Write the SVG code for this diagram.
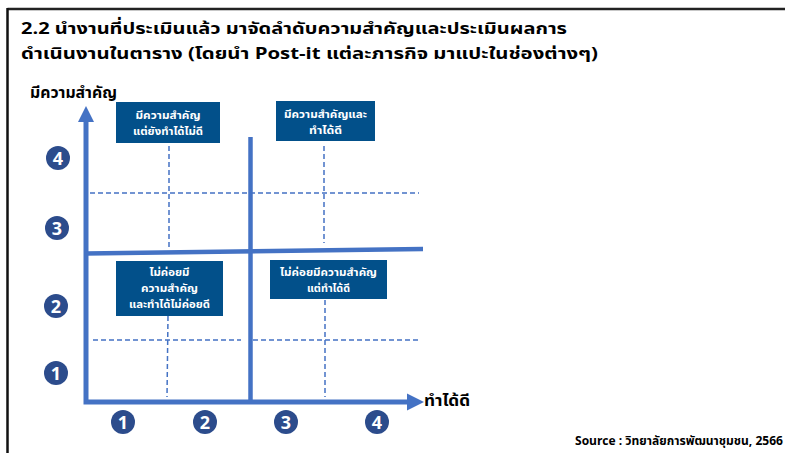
<svg xmlns="http://www.w3.org/2000/svg" width="785" height="453" viewBox="0 0 785 453">
<style>
  .title { font-family: "Noto Sans Thai", "Noto Sans", "DejaVu Sans", sans-serif; font-weight: bold; font-size: 16.5px; fill: #000; }
  .axislabel { font-family: "Noto Sans Thai", "Noto Sans", "DejaVu Sans", sans-serif; font-weight: bold; font-size: 16px; fill: #000; }
  .boxtext { font-family: "Noto Sans Thai", "Noto Sans", "DejaVu Sans", sans-serif; font-weight: bold; font-size: 10.5px; fill: #fff; text-anchor: middle; }
  .box { fill: #02508A; }
  .num { fill: #2C4C8C; }
  .numtext { font-family: "Open Sans", "Liberation Sans", sans-serif; font-weight: bold; font-size: 18px; fill: #fff; text-anchor: middle; }
  .axis { stroke: #4472C4; stroke-width: 5; fill: none; }
  .mid { stroke: #4472C4; stroke-width: 4.5; fill: none; }
  .dash { stroke: #4472C4; stroke-width: 1.5; stroke-dasharray: 5 3; fill: none; }
  .source { font-family: "Noto Sans Thai", "Noto Sans", "DejaVu Sans", sans-serif; font-weight: bold; font-size: 11.5px; fill: #000; text-anchor: end; }
</style>
<rect width="785" height="453" fill="#fff"/>
<g id="frame">
  <line x1="7.5" y1="9" x2="785" y2="9" stroke="#222" stroke-width="2.5"/>
  <line x1="7.5" y1="8" x2="7.5" y2="453" stroke="#111" stroke-width="2.5"/>
</g>
<g id="title">
  <text class="title" x="21" y="34" textLength="546" lengthAdjust="spacingAndGlyphs">2.2 นำงานที่ประเมินแล้ว มาจัดลำดับความสำคัญและประเมินผลการ</text>
  <text class="title" x="21" y="59" textLength="577" lengthAdjust="spacingAndGlyphs">ดำเนินงานในตาราง (โดยนำ Post-it แต่ละภารกิจ มาแปะในช่องต่างๆ)</text>
</g>
<g id="connectors">
  <line class="dash" x1="90" y1="193" x2="419" y2="193"/>
  <line class="dash" x1="93" y1="340" x2="241" y2="340"/>
  <line class="dash" x1="253" y1="340" x2="419" y2="340"/>
  <line class="dash" x1="169" y1="146" x2="169" y2="250"/>
  <line class="dash" x1="324" y1="146" x2="324" y2="243"/>
  <line class="dash" x1="168" y1="316" x2="167" y2="397"/>
  <line class="dash" x1="325" y1="300" x2="325" y2="397"/>
  <line class="mid" x1="250.5" y1="137" x2="250.5" y2="402"/>
  <line class="mid" x1="86" y1="253.5" x2="423" y2="249"/>
  <polyline class="axis" points="86,112 86,402 410,402"/>
  <polygon points="86,106 78,122 94,122" fill="#4472C4"/>
  <polygon points="424,402 407,393.5 407,410.5" fill="#4472C4"/>
</g>
<g id="axis-y-label"><text class="axislabel" x="30" y="98" textLength="87" lengthAdjust="spacingAndGlyphs">มีความสำคัญ</text></g>
<g id="axis-x-label"><text class="axislabel" x="424" y="406" textLength="46" lengthAdjust="spacingAndGlyphs">ทำได้ดี</text></g>
<g id="box-important-poor">
  <rect class="box" x="116" y="102" width="104" height="41"/>
  <text class="boxtext" x="168" y="119" textLength="65" lengthAdjust="spacingAndGlyphs">มีความสำคัญ</text>
  <text class="boxtext" x="168" y="135" textLength="70" lengthAdjust="spacingAndGlyphs">แต่ยังทำได้ไม่ดี</text>
</g>
<g id="box-important-good">
  <rect class="box" x="276" y="101" width="99" height="40"/>
  <text class="boxtext" x="325.5" y="118" textLength="83" lengthAdjust="spacingAndGlyphs">มีความสำคัญและ</text>
  <text class="boxtext" x="325.5" y="134" textLength="33" lengthAdjust="spacingAndGlyphs">ทำได้ดี</text>
</g>
<g id="box-unimportant-poor">
  <rect class="box" x="116" y="261" width="107" height="55"/>
  <text class="boxtext" x="169.5" y="276" textLength="40" lengthAdjust="spacingAndGlyphs">ไม่ค่อยมี</text>
  <text class="boxtext" x="169.5" y="292" textLength="57" lengthAdjust="spacingAndGlyphs">ความสำคัญ</text>
  <text class="boxtext" x="169.5" y="308" textLength="81" lengthAdjust="spacingAndGlyphs">และทำได้ไม่ค่อยดี</text>
</g>
<g id="box-unimportant-good">
  <rect class="box" x="270" y="260" width="117" height="39"/>
  <text class="boxtext" x="328.5" y="276" textLength="97" lengthAdjust="spacingAndGlyphs">ไม่ค่อยมีความสำคัญ</text>
  <text class="boxtext" x="328.5" y="292" textLength="43" lengthAdjust="spacingAndGlyphs">แต่ทำได้ดี</text>
</g>
<g id="y-scale">
  <circle class="num" cx="58" cy="158" r="12"/><text class="numtext" x="58" y="164.5">4</text>
  <circle class="num" cx="57" cy="228" r="12"/><text class="numtext" x="57" y="234.5">3</text>
  <circle class="num" cx="56" cy="306" r="12"/><text class="numtext" x="56" y="312.5">2</text>
  <circle class="num" cx="56" cy="373" r="12"/><text class="numtext" x="56" y="379.5">1</text>
</g>
<g id="x-scale">
  <circle class="num" cx="123" cy="422" r="12"/><text class="numtext" x="123" y="428.5">1</text>
  <circle class="num" cx="205" cy="422" r="12"/><text class="numtext" x="205" y="428.5">2</text>
  <circle class="num" cx="286" cy="422" r="12"/><text class="numtext" x="286" y="428.5">3</text>
  <circle class="num" cx="377" cy="422" r="12"/><text class="numtext" x="377" y="428.5">4</text>
</g>
<g id="source"><text class="source" x="783" y="445" textLength="208" lengthAdjust="spacingAndGlyphs">Source : วิทยาลัยการพัฒนาชุมชน, 2566</text></g>
</svg>
